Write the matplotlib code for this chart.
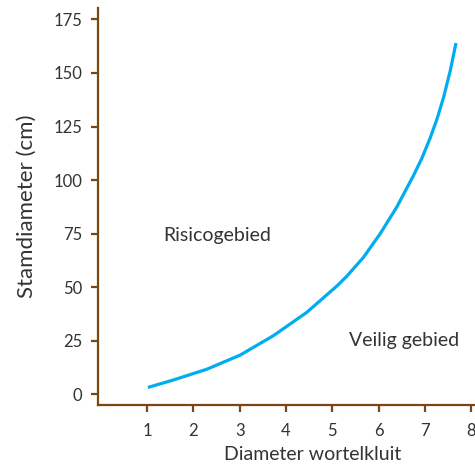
import matplotlib
matplotlib.use("Agg")
import matplotlib.pyplot as plt

# Curve
diameter_kluit = [1.02, 1.57, 2.29, 3.01, 3.73, 4.45, 5.10, 5.31, 5.67, 6.03,
                  6.39, 6.75, 6.93, 7.11, 7.26, 7.40, 7.54, 7.67]
stamdiameter = [3.1, 6.6, 11.6, 18.2, 27.3, 38.2, 50.5, 55.0, 63.8, 74.8,
                87.3, 102.0, 110.0, 119.5, 128.5, 138.5, 150.5, 164.0]

x_ticks = [1, 2, 3, 4, 5, 6, 7, 8]
y_ticks = [0, 25, 50, 75, 100, 125, 150, 175]

axis_color = "#7a4712"
line_color = "#00aeef"
text_color = "#333333"

plt.rcParams['font.family'] = ['Lato', 'DejaVu Sans']

fig = plt.figure(figsize=(4.75, 4.65), dpi=100)
ax = fig.add_axes([0.206, 0.129, 0.794, 0.854])

ax.plot(diameter_kluit, stamdiameter, color=line_color, linewidth=2.3,
        solid_capstyle='butt', solid_joinstyle='round')

ax.set_xlim(-0.06, 8.08)
ax.set_ylim(-5.1, 180.4)
ax.set_xticks(x_ticks)
ax.set_yticks(y_ticks)

for side in ["top", "right"]:
    ax.spines[side].set_visible(False)
for side in ["left", "bottom"]:
    ax.spines[side].set_color(axis_color)
    ax.spines[side].set_linewidth(1.6)

ax.tick_params(axis='both', direction='out', length=5, width=1.6,
               color=axis_color, labelcolor=text_color, labelsize=12)
ax.tick_params(axis='y', pad=6)
ax.tick_params(axis='x', pad=8)

ax.set_xlabel("Diameter wortelkluit", fontsize=14, color=text_color)
ax.xaxis.set_label_coords(0.57, -0.102)
ax.set_ylabel("Stamdiameter (cm)", fontsize=16, color=text_color, labelpad=12)

ax.text(1.35, 74, "Risicogebied", fontsize=14, color=text_color, va='center')
ax.text(5.37, 25, "Veilig gebied", fontsize=14, color=text_color, va='center')

plt.savefig("out.png", dpi=100)
plt.close()
